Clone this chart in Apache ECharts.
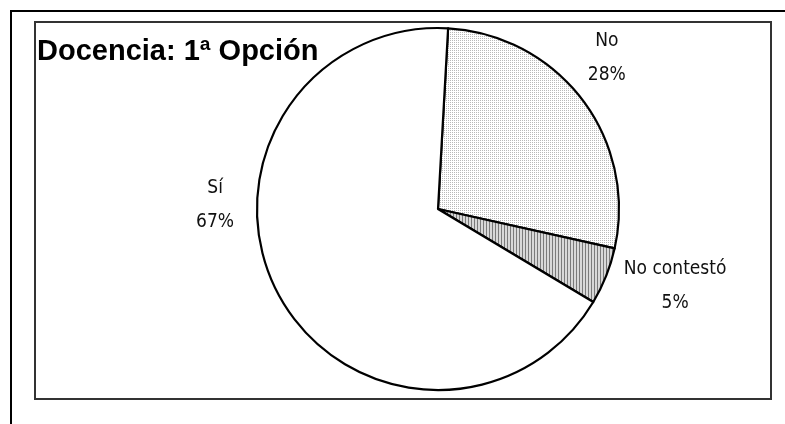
<!DOCTYPE html>
<html>
<head>
<meta charset="utf-8">
<script src="https://cdn.jsdelivr.net/npm/echarts@6/dist/echarts.min.js"></script>
<style>
html,body{margin:0;padding:0;background:#fff;}
#chart{width:785px;height:424px;}
</style>
</head>
<body>
<div id="chart"></div>
<script>
// ---- data ----
var titleText = 'Docencia: 1ª Opción';
var categories = ['No', 'No contestó', 'Sí'];
var values = [27.6, 5.1, 67.3];

// ---- label anchor positions (fractions of chart width/height) ----
var labelAnchors = [[0.773, 0.137], [0.860, 0.674], [0.274, 0.484]];

function makeDots() {
  var c = document.createElement('canvas');
  c.width = 2; c.height = 2;
  var g = c.getContext('2d');
  g.fillStyle = '#ffffff'; g.fillRect(0, 0, 2, 2);
  g.fillStyle = '#b8b8b8'; g.fillRect(0, 0, 1, 1);
  return c;
}
function makeStripes() {
  var c = document.createElement('canvas');
  c.width = 3; c.height = 3;
  var g = c.getContext('2d');
  g.fillStyle = '#d8d8d8'; g.fillRect(0, 0, 3, 3);
  g.fillStyle = '#7a7a7a'; g.fillRect(0, 0, 1, 3);
  return c;
}
var fills = [
  {image: makeDots(), repeat: 'repeat'},
  {image: makeStripes(), repeat: 'repeat'},
  '#ffffff'
];

var chart = echarts.init(document.getElementById('chart'));
var W = 785, H = 424;
var pieData = categories.map(function (n, i) {
  return {name: n, value: values[i], itemStyle: {color: fills[i]}};
});

chart.setOption({
  animation: false,
  backgroundColor: '#ffffff',
  title: {
    text: titleText,
    left: 32, top: 32,
    textStyle: {fontFamily: 'Liberation Sans, Arial, sans-serif', fontWeight: 'bold', fontSize: 29, color: '#000'}
  },
  graphic: [
    {type: 'polyline', silent: true, z: 10,
      shape: {points: [[11, 424], [11, 11], [785, 11]]},
      style: {stroke: '#000', lineWidth: 2, fill: null}},
    {type: 'rect', silent: true, z: 10,
      shape: {x: 35, y: 22, width: 736, height: 377},
      style: {stroke: '#333', lineWidth: 2, fill: null}}
  ],
  series: [{
    type: 'pie',
    center: [438, 209],
    radius: 181,
    startAngle: 86.8,
    clockwise: true,
    percentPrecision: 0,
    data: pieData,
    itemStyle: {borderColor: '#000', borderWidth: 2.2},
    label: {
      show: true,
      position: 'outside',
      formatter: '{b}\n{d}%',
      fontFamily: 'Liberation Sans Narrow, Arial Narrow, DejaVu Sans Condensed, sans-serif',
      fontSize: 19,
      lineHeight: 34,
      color: '#111',
      align: 'center'
    },
    labelLine: {show: false},
    labelLayout: function (p) {
      var a = labelAnchors[p.dataIndex];
      return {x: a[0] * W, y: a[1] * H, align: 'center', verticalAlign: 'middle', moveOverlap: null};
    },
    emphasis: {disabled: true}
  }]
});
</script>
</body>
</html>
